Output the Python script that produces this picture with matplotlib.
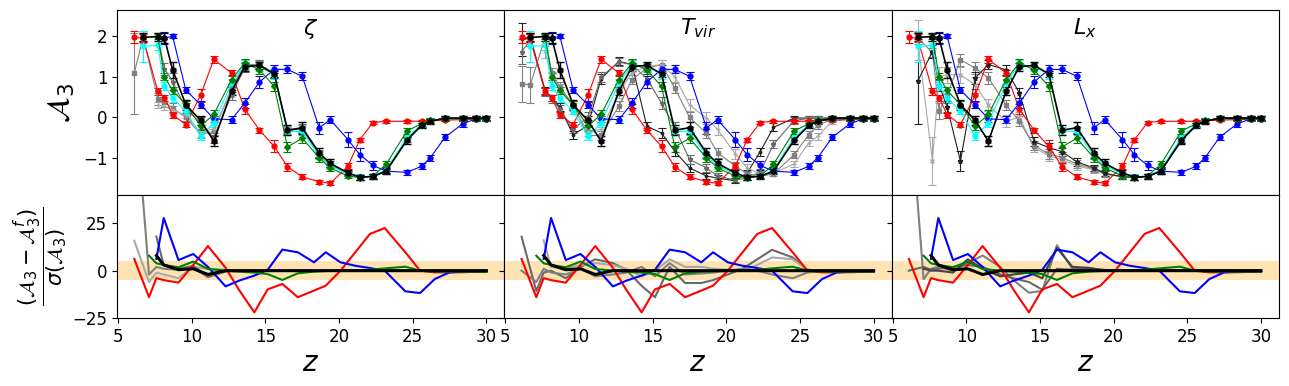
import numpy as np
import matplotlib
matplotlib.use("Agg")
import matplotlib.pyplot as plt

nan = np.nan

# redshift grid of the A3 points (top row) and of the residuals (bottom row)
z_top = [6.1, 6.7, 7.7, 8.15, 8.7, 9.6, 10.6, 11.5, 12.7, 13.6, 14.6, 15.6, 16.5, 17.5,
         18.65, 19.4, 20.6, 21.4, 22.3, 23.2, 24.6, 25.6, 26.2, 27.2, 28.4, 29.3, 30.0]
z_res = [6.1, 7.1, 7.6, 8.1, 9.1, 10.1, 11.1, 12.3, 13.2, 14.25, 15.15, 16.15, 17.2, 18.3,
         19.1, 20.1, 21.1, 22.1, 23.1, 24.5, 25.5, 26.5, 27.5, 28.5, 29.3, 30.0]

panel_titles = [r'$\zeta$', r'$T_{vir}$', r'$L_x$']

# ---- A3 curves common to the three panels ----
red_A3 = [1.97, 1.95, 0.64, 0.48, 0.06, -0.18, 0.54, 1.43, 1.09, 0.20, -0.32, -0.72, -1.22, -1.47,
          -1.59, -1.63, -1.21, -0.56, -0.13, -0.10, -0.10, -0.10, -0.09, -0.07, -0.06, -0.05, -0.05]
red_err = [0.15, 0.10, 0.08, 0.08, 0.07, 0.07, 0.16, 0.08, 0.08, 0.12, 0.06, 0.15, 0.10, 0.06,
           0.05, 0.05, 0.07, 0.06, 0.04, 0.03, 0.03, 0.03, 0.03, 0.03, 0.03, 0.03, 0.03]
blue_A3 = [nan, nan, nan, 1.95, 2.00, 0.67, 0.31, -0.04, -0.06, 0.35, 0.87, 1.18, 1.18, 1.01,
           -0.26, -0.06, -0.55, -0.92, -1.19, -1.33, -1.36, -1.21, -1.00, -0.49, -0.16, -0.04, -0.04]
blue_err = [nan, nan, nan, 0.15, 0.05, 0.07, 0.08, 0.08, 0.08, 0.13, 0.15, 0.10, 0.10, 0.10,
            0.15, 0.08, 0.18, 0.15, 0.10, 0.05, 0.06, 0.07, 0.08, 0.08, 0.08, 0.06, 0.06]
green_A3 = [nan, nan, 1.99, 1.00, 0.66, 0.31, -0.22, 0.07, 0.93, 1.34, 1.17, 0.76, -0.73, -0.52,
            -1.00, -1.25, -1.45, -1.49, -1.45, -1.16, -0.34, -0.16, -0.08, -0.04, -0.04, -0.04, -0.04]
green_err = [nan, nan, 0.06, 0.08, 0.08, 0.08, 0.10, 0.10, 0.10, 0.10, 0.10, 0.12, 0.12, 0.12,
             0.10, 0.08, 0.06, 0.06, 0.06, 0.08, 0.08, 0.06, 0.05, 0.05, 0.05, 0.05, 0.05]
cyan_A3 = [nan, 1.75, 1.77, 0.76, 0.48, 0.15, -0.47, -0.14, 0.84, 1.30, 1.25, 1.05, -0.35, -0.35,
           -0.95, -1.20, -1.40, -1.47, -1.45, -1.30, -0.50, -0.18, -0.08, -0.03, -0.03, -0.03, -0.03]
cyan_err = [nan, 0.38, 0.10, 0.10, 0.10, 0.08, 0.10, 0.10, 0.10, 0.10, 0.10, 0.10, 0.10, 0.10,
            0.08, 0.08, 0.06, 0.06, 0.06, 0.06, 0.06, 0.05, 0.05, 0.05, 0.05, 0.05, 0.05]
black_A3 = [nan, 1.97, 1.99, 1.95, 1.17, 0.31, -0.08, -0.59, 0.64, 1.25, 1.28, 1.07, -0.32, -0.26,
            -0.88, -1.14, -1.37, -1.48, -1.46, -1.33, -0.57, -0.20, -0.10, -0.02, -0.02, -0.02, -0.02]
black_err = [nan, 0.10, 0.10, 0.12, 0.20, 0.12, 0.12, 0.12, 0.10, 0.10, 0.08, 0.08, 0.12, 0.15,
             0.12, 0.10, 0.06, 0.06, 0.06, 0.08, 0.08, 0.06, 0.06, 0.06, 0.06, 0.06, 0.06]

# ---- zeta panel, gray curves ----
zeta_g1 = [1.09, 1.97, 0.45, 0.38, 0.22, 0.00, -0.42, -0.35, 0.72, 1.30, 1.30, 1.08, -0.30, -0.28,
           -0.92, -1.16, -1.40, -1.48, -1.46, -1.33, -0.55, -0.19, -0.09, -0.03, -0.03, -0.03, -0.03]
zeta_g1_err = [1.00, 0.15, 0.15, 0.12, 0.12, 0.10, 0.10, 0.10, 0.10, 0.10, 0.10, 0.10, 0.10, 0.10,
               0.08, 0.08, 0.06, 0.06, 0.06, 0.06, 0.06, 0.05, 0.05, 0.05, 0.05, 0.05, 0.05]
zeta_g2 = [nan, nan, 0.30, 0.27, 0.18, 0.05, -0.38, -0.28, 0.68, 1.27, 1.29, 1.06, -0.31, -0.30,
           -0.93, -1.17, -1.40, -1.48, -1.46, -1.32, -0.54, -0.19, -0.09, -0.03, -0.03, -0.03, -0.03]
zeta_g2_err = [nan, nan, 0.08, 0.10, 0.10, 0.08, 0.10, 0.10, 0.10, 0.10, 0.10, 0.10, 0.10, 0.10,
               0.08, 0.08, 0.06, 0.06, 0.06, 0.06, 0.06, 0.05, 0.05, 0.05, 0.05, 0.05, 0.05]
zeta_g3 = [nan, nan, 1.98, 1.20, 0.88, 0.22, -0.15, -0.52, 0.55, 1.22, 1.30, 1.06, -0.34, -0.27,
           -0.90, -1.15, -1.38, -1.48, -1.46, -1.33, -0.56, -0.20, -0.10, -0.03, -0.03, -0.03, -0.03]
zeta_g3_err = [nan, nan, 0.10, 0.15, 0.20, 0.12, 0.15, 0.12, 0.12, 0.10, 0.10, 0.10, 0.10, 0.10,
               0.08, 0.08, 0.06, 0.06, 0.06, 0.06, 0.06, 0.05, 0.05, 0.05, 0.05, 0.05, 0.05]

# ---- T_vir panel, gray / dark curves (ordered early -> late) ----
tvir_k1 = [1.92, 1.97, 0.66, 0.48, 0.25, -0.43, -0.20, 0.95, 1.38, 1.30, -0.22, -0.39, -0.84, -1.25,
           -1.45, -1.50, -1.57, -1.38, -0.85, -0.25, -0.02, -0.02, -0.02, -0.02, -0.02, -0.02, -0.02]
tvir_k1_err = [0.40, 0.12, 0.08, 0.08, 0.10, 0.10, 0.12, 0.12, 0.10, 0.10, 0.10, 0.12, 0.12, 0.10,
               0.08, 0.08, 0.06, 0.08, 0.10, 0.10, 0.06, 0.05, 0.05, 0.05, 0.05, 0.05, 0.05]
tvir_k2 = [1.62, 1.90, 0.62, 0.45, 0.20, -0.30, 0.00, 1.00, 1.36, 1.30, 0.95, 0.35, -0.26, -1.04,
           -1.25, -1.45, -1.55, -1.50, -1.35, -0.67, -0.08, -0.03, -0.03, -0.03, -0.03, -0.03, -0.03]
tvir_k2_err = [0.30, 0.15, 0.10, 0.10, 0.10, 0.10, 0.12, 0.12, 0.10, 0.10, 0.12, 0.15, 0.15, 0.12,
               0.10, 0.08, 0.06, 0.06, 0.08, 0.10, 0.08, 0.05, 0.05, 0.05, 0.05, 0.05, 0.05]
tvir_g1 = [0.82, 0.80, 1.98, 1.10, 0.75, 0.30, -0.45, -0.45, 0.27, 0.93, 1.21, 1.30, 0.72, 0.00,
           -0.40, -0.88, -1.20, -1.40, -1.45, -1.40, -0.92, -0.43, -0.20, -0.05, -0.03, -0.03, -0.03]
tvir_g1_err = [0.45, 0.45, 0.06, 0.12, 0.12, 0.10, 0.12, 0.12, 0.12, 0.12, 0.10, 0.10, 0.12, 0.12,
               0.12, 0.12, 0.10, 0.08, 0.06, 0.06, 0.08, 0.08, 0.08, 0.06, 0.05, 0.05, 0.05]
tvir_g2 = [nan, nan, 1.60, 1.00, 0.70, 0.25, -0.35, -0.30, 0.60, 1.10, 1.25, 1.30, 1.00, 0.30,
           -0.02, -0.30, -0.90, -1.25, -1.40, -1.38, -1.15, -0.63, -0.47, -0.10, -0.04, -0.03, -0.03]
tvir_g2_err = [nan, nan, 0.15, 0.12, 0.12, 0.10, 0.12, 0.12, 0.12, 0.12, 0.10, 0.10, 0.12, 0.15,
               0.15, 0.15, 0.12, 0.10, 0.08, 0.08, 0.08, 0.08, 0.08, 0.06, 0.05, 0.05, 0.05]

# ---- L_x panel, gray / dark curves ----
lx_g1 = [nan, 1.90, -1.08, 1.00, 1.05, 1.05, 0.80, 0.30, -0.10, 0.00, -0.75, -0.95, -1.05, -1.20,
         -1.30, -1.40, -1.47, -1.48, -1.46, -1.33, -0.55, -0.19, -0.09, -0.03, -0.03, -0.03, -0.03]
lx_g1_err = [nan, 0.50, 0.60, 0.25, 0.20, 0.20, 0.20, 0.15, 0.15, 0.12, 0.12, 0.12, 0.10, 0.10,
             0.08, 0.08, 0.06, 0.06, 0.06, 0.06, 0.06, 0.05, 0.05, 0.05, 0.05, 0.05, 0.05]
lx_g2 = [nan, 1.95, 1.60, 0.15, 0.55, 1.42, 1.21, 0.97, 0.30, -0.10, -0.70, -0.90, -1.00, -1.15,
         -1.28, -1.40, -1.47, -1.48, -1.46, -1.33, -0.55, -0.19, -0.09, -0.03, -0.03, -0.03, -0.03]
lx_g2_err = [nan, 0.15, 0.12, 0.20, 0.20, 0.15, 0.15, 0.15, 0.12, 0.12, 0.12, 0.12, 0.10, 0.10,
             0.08, 0.08, 0.06, 0.06, 0.06, 0.06, 0.06, 0.05, 0.05, 0.05, 0.05, 0.05, 0.05]
lx_k1 = [nan, 0.89, 1.62, 0.80, 0.25, -1.08, 0.97, 1.30, 1.17, 0.60, -0.60, -0.75, -0.85, -1.10,
         -1.25, -1.38, -1.47, -1.48, -1.46, -1.33, -0.57, -0.20, -0.10, -0.02, -0.02, -0.02, -0.02]
lx_k1_err = [nan, 1.05, 0.15, 0.15, 0.15, 0.25, 0.15, 0.12, 0.12, 0.12, 0.12, 0.12, 0.10, 0.10,
             0.08, 0.08, 0.06, 0.06, 0.06, 0.06, 0.06, 0.05, 0.05, 0.05, 0.05, 0.05, 0.05]

# ---- residuals (A3 - A3^f) / sigma ----
red_res = [6.2, -14.0, -3.9, -5.0, -6.3, 3.0, 13.0, 1.5, -10.0, -22.0, -9.9, -7.0, -14.0,
           -10.5, -7.9, 0.0, 9.7, 19.4, 22.5, 9.7, 0.0, -0.9, -0.9, -0.8, -0.6, -0.5]
blue_res = [nan, nan, 6.2, 27.8, 5.6, 8.8, 2.0, -8.3, -5.3, -2.6, 0.4, 11.1, 9.7,
            4.4, 9.7, 4.4, 2.6, 1.4, 0.0, -10.9, -11.8, -4.4, -0.9, -0.5, -0.5, -0.5]
green_res = [nan, 7.9, 3.9, 3.0, 1.8, 4.8, 0.9, 0.0, -0.5, -1.0, -1.8, -4.9, -1.4,
             -0.5, -0.2, 0.0, 0.0, 0.5, 1.2, 2.1, 0.0, -0.5, -0.5, -0.5, -0.5, -0.5]
black_res = [nan, nan, 8.0, 3.0, 0.5, 1.0, -2.0, 0.0, 0.0, 0.0, 0.0, 0.0, 0.0,
             0.0, 0.0, 0.0, 0.0, 0.0, 0.0, 0.0, 0.0, 0.0, 0.0, 0.0, 0.0, 0.0]

zeta_res1 = [15.8, -6.0, -1.0, -2.0, -4.0, 2.0, 1.0, 0.5, 0.0, 0.0, 0.0, 0.0, 0.0,
             0.0, 0.0, 0.0, 0.0, 0.0, 0.0, 0.0, 0.0, 0.0, 0.0, 0.0, 0.0, 0.0]
zeta_res2 = [95.0, -2.0, 2.0, 1.0, 0.5, 1.5, -3.5, -0.5, 0.0, 0.0, 0.0, 0.0, 0.0,
             0.0, 0.0, 0.0, 0.0, 0.0, 0.0, 0.0, 0.0, 0.0, 0.0, 0.0, 0.0, 0.0]
zeta_res3 = [nan, nan, 18.0, 3.0, 1.0, 2.5, -3.0, 0.0, 0.0, 0.0, 0.0, 0.0, 0.0,
             0.0, 0.0, 0.0, 0.0, 0.0, 0.0, 0.0, 0.0, 0.0, 0.0, 0.0, 0.0, 0.0]

tvir_res1 = [17.9, -10.7, -1.0, 0.0, -4.0, 2.0, 6.0, 4.0, 0.5, -8.0, -14.0, 2.0, -6.5,
             -6.5, -5.0, -2.0, 1.0, 6.0, 11.0, 7.0, 0.5, 0.0, 0.0, 0.0, 0.0, 0.0]
tvir_res2 = [nan, nan, 16.0, 2.0, 1.0, 3.0, 4.0, 3.0, 1.0, -3.0, 0.0, 6.0, 2.0,
             2.0, 1.0, 0.5, 0.0, 3.0, 7.0, 6.0, 0.5, 0.0, 0.0, 0.0, 0.0, 0.0]
tvir_res3 = [0.0, -6.0, 1.0, -1.0, -2.0, 1.0, -3.0, -2.0, -1.0, 2.0, -3.0, 4.0, -2.0,
             -1.5, -1.0, 0.0, 1.0, 0.0, -2.0, -4.0, -1.0, 0.0, 0.0, 0.0, 0.0, 0.0]

lx_res1 = [95.0, -4.5, 1.0, 2.0, 0.0, 4.0, 8.0, 2.0, -5.0, -11.6, -10.7, 13.4, 1.0,
           1.5, 0.5, 0.0, 0.0, 0.0, 0.0, 0.0, 0.0, 0.0, 0.0, 0.0, 0.0, 0.0]
lx_res2 = [0.0, 2.0, 0.5, 1.0, 2.0, 3.0, 2.0, -2.0, -4.0, -6.0, -10.0, 1.0, 0.5,
           1.0, 0.5, 0.0, 0.0, 0.0, 0.0, 0.0, 0.0, 0.0, 0.0, 0.0, 0.0, 0.0]
lx_res3 = [nan, 1.0, 0.0, 0.0, -1.0, 6.0, 1.0, -3.0, -2.0, -1.0, -4.0, 12.0, 2.0,
           1.5, 0.5, 0.0, 0.0, 0.0, 0.0, 0.0, 0.0, 0.0, 0.0, 0.0, 0.0, 0.0]


top_sets = [
    [(zeta_g1, zeta_g1_err, 'gray', 's'),
     (zeta_g2, zeta_g2_err, 'darkgray', '+'),
     (zeta_g3, zeta_g3_err, 'dimgray', '*')],
    [(tvir_k1, tvir_k1_err, '#222222', '.'),
     (tvir_k2, tvir_k2_err, 'dimgray', '*'),
     (tvir_g1, tvir_g1_err, 'gray', 's'),
     (tvir_g2, tvir_g2_err, 'darkgray', '+')],
    [(lx_g1, lx_g1_err, 'darkgray', 'x'),
     (lx_g2, lx_g2_err, 'gray', 's'),
     (lx_k1, lx_k1_err, '#222222', '*')],
]
res_sets = [
    [(zeta_res1, 'darkgray'), (zeta_res2, 'gray'), (zeta_res3, 'dimgray')],
    [(tvir_res1, 'dimgray'), (tvir_res2, 'darkgray'), (tvir_res3, 'gray')],
    [(lx_res1, 'gray'), (lx_res2, 'dimgray'), (lx_res3, '#444444')],
]

fig, axes = plt.subplots(2, 3, figsize=(12.89, 3.86), dpi=100, sharex=True, sharey='row',
                         gridspec_kw={'height_ratios': [1.5, 1.0], 'hspace': 0, 'wspace': 0})
fig.subplots_adjust(left=0.0908, right=0.9922, top=0.974, bottom=0.176)

eb = dict(capsize=3, elinewidth=0.8, capthick=0.8, markersize=3.5)

for j in range(3):
    ax = axes[0, j]
    for vals, err, col, mk in top_sets[j]:
        ax.errorbar(z_top, vals, yerr=err, color=col, marker=mk, lw=0.8, **eb)
    ax.errorbar(z_top, red_A3, yerr=red_err, color='red', marker='o', lw=0.8, **eb)
    ax.errorbar(z_top, blue_A3, yerr=blue_err, color='blue', marker='o', lw=0.8, **eb)
    ax.errorbar(z_top, cyan_A3, yerr=cyan_err, color='cyan', marker='o', lw=0.8, **eb)
    ax.errorbar(z_top, green_A3, yerr=green_err, color='green', marker='D', lw=0.8,
                capsize=3, elinewidth=0.8, capthick=0.8, markersize=3)
    ax.errorbar(z_top, black_A3, yerr=black_err, color='black', marker='h', lw=1.2,
                capsize=3, elinewidth=1.0, capthick=1.0, markersize=4)
    ax.text(0.5, 0.9, panel_titles[j], transform=ax.transAxes, ha='center', va='center',
            fontsize=16)

    axr = axes[1, j]
    axr.axhspan(-5, 5, color='orange', alpha=0.3, lw=0)
    for vals, col in res_sets[j]:
        axr.plot(z_res, vals, color=col, lw=1.5)
    axr.plot(z_res, red_res, color='red', lw=1.5)
    axr.plot(z_res, blue_res, color='blue', lw=1.5)
    axr.plot(z_res, green_res, color='green', lw=1.5)
    axr.plot(z_res, black_res, color='black', lw=2.2)
    axr.set_xlabel(r'$z$', fontsize=20, labelpad=2)

for ax in axes.flat:
    ax.tick_params(labelsize=12)
axes[0, 0].set_xlim(4.93, 31.22)
axes[0, 0].set_ylim(-1.915, 2.645)
axes[0, 0].set_yticks([-1, 0, 1, 2])
axes[1, 0].set_ylim(-25, 40)
axes[1, 0].set_yticks([-25, 0, 25])
axes[0, 0].set_ylabel(r'$\mathcal{A}_3$', fontsize=22)
axes[1, 0].set_ylabel(r'$\dfrac{(\mathcal{A}_3-\mathcal{A}_3^f)}{\sigma(\mathcal{A}_3)}$',
                      fontsize=15, labelpad=2)

fig.savefig('out.png', dpi=100)
